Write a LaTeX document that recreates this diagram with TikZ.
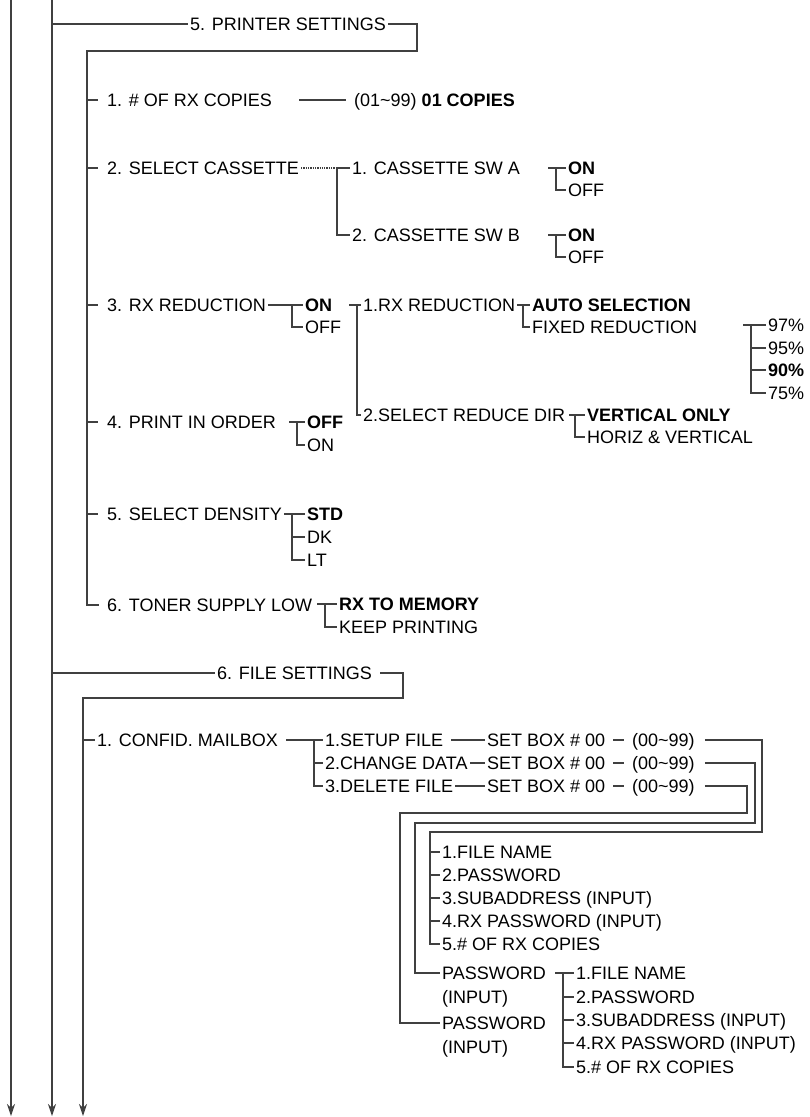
\documentclass[tikz,border=0pt]{standalone}
\usepackage{fontspec}
\setmainfont{Liberation Sans}
\usetikzlibrary{arrows.meta}

\tikzset{
  menu/.style={anchor=west, inner sep=2pt, text height=13pt, text depth=0pt,
    font=\fontsize{18}{22}\selectfont},
  sel/.style={menu, font=\fontsize{18}{22}\selectfont\bfseries},
  wire/.style={line width=1.3pt, black!75},
  down/.style={wire, -{Stealth[length=12pt, width=8pt]}}
}

\begin{document}
\begin{tikzpicture}[x=1pt, y=-1pt]
    \useasboundingbox (0,0) rectangle (810,1117);

    % Columns that run down the whole page
    \coordinate (colA) at (11,0);
    \coordinate (colB) at (52,0);
    \coordinate (endA) at (11,1116);
    \coordinate (endB) at (52,1116);
    \draw[down] (colA) -- (endA);
    \draw[down] (colB) -- (endB);

    % 5. Printer settings
    \node[menu] (prn) at (188,24) {5. PRINTER SETTINGS};
    \coordinate (prnTurn) at (417,51);
    \coordinate (prnBus) at (87,51);

    \node[menu] (copies) at (105,100) {1. \# OF RX COPIES};
    \node[menu] (copyval) at (352,100) {(01\textasciitilde99) \textbf{01 COPIES}};

    \node[menu] (cass) at (105,168) {2. SELECT CASSETTE};
    \coordinate (cassJ) at (337,168);
    \node[menu] (swA) at (350,168) {1. CASSETTE SW A};
    \node[menu] (swB) at (350,235) {2. CASSETTE SW B};
    \coordinate (aJ) at (556,168);
    \node[sel] (aOn) at (566,168) {ON};
    \node[menu] (aOff) at (566,190) {OFF};
    \coordinate (bJ) at (556,235);
    \node[sel] (bOn) at (566,235) {ON};
    \node[menu] (bOff) at (566,257) {OFF};

    \node[menu] (redu) at (105,305) {3. RX REDUCTION};
    \coordinate (rJ) at (292,305);
    \node[sel] (rOn) at (303,305) {ON};
    \node[menu] (rOff) at (303,327) {OFF};
    \coordinate (sJ) at (357,305);
    \node[menu] (rx1) at (361,305) {1.RX REDUCTION};
    \node[menu] (rx2) at (361,415) {2.SELECT REDUCE DIR};
    \coordinate (autoJ) at (523,305);
    \node[sel] (auto) at (530,305) {AUTO SELECTION};
    \node[menu] (fixed) at (530,327) {FIXED REDUCTION};
    \coordinate (pJ) at (751,325);
    \node[menu] (p97) at (766,325) {97\%};
    \node[menu] (p95) at (766,348) {95\%};
    \node[sel] (p90) at (766,370) {90\%};
    \node[menu] (p75) at (766,393) {75\%};
    \coordinate (dJ) at (575,415);
    \node[sel] (vert) at (585,415) {VERTICAL ONLY};
    \node[menu] (horiz) at (585,437) {HORIZ \& VERTICAL};

    \node[menu] (order) at (105,422) {4. PRINT IN ORDER};
    \coordinate (oJ) at (297,422);
    \node[sel] (oOff) at (305,422) {OFF};
    \node[menu] (oOn) at (305,445) {ON};

    \node[menu] (dens) at (105,514) {5. SELECT DENSITY};
    \coordinate (nJ) at (292,514);
    \node[sel] (std) at (305,514) {STD};
    \node[menu] (dk) at (305,537) {DK};
    \node[menu] (lt) at (305,560) {LT};

    \node[menu] (toner) at (105,605) {6. TONER SUPPLY LOW};
    \coordinate (tJ) at (325,604);
    \node[sel] (mem) at (337,604) {RX TO MEMORY};
    \node[menu] (keep) at (337,627) {KEEP PRINTING};

    % Printer settings wires
    \draw[wire] (colB |- prn.west) -- (prn.west);
    \draw[wire] (prn.east) -| (prnTurn) -- (prnBus) |- ([xshift=-6pt]toner.west);
    \foreach \n in {copies,cass,redu,order,dens}
        \draw[wire] (prnBus |- \n.west) -- ++(11,0);
    \draw[wire] ([xshift=25pt]copies.east) -- ([xshift=-6pt]copyval.west);
    \draw[wire, densely dotted] (cass.east) -- (cassJ);
    \draw[wire] (cassJ) -- (swA.west);
    \draw[wire] (cassJ) |- (swB.west);
    \draw[wire] ([xshift=-8pt]aJ) -- (aOn.west);
    \draw[wire] (aJ) |- (aOff.west);
    \draw[wire] ([xshift=-8pt]bJ) -- (bOn.west);
    \draw[wire] (bJ) |- (bOff.west);
    \draw[wire] (redu.east) -- (rOn.west);
    \draw[wire] (rJ) |- (rOff.west);
    \draw[wire] ([xshift=-8pt]sJ) -- (rx1.west);
    \draw[wire] (sJ) |- (rx2.west);
    \draw[wire] ([xshift=-6pt]autoJ) -- (auto.west);
    \draw[wire] (autoJ) |- (fixed.west);
    \draw[wire] ([xshift=-8pt]pJ) -- (p97.west);
    \draw[wire] (pJ) |- (p75.west);
    \foreach \n in {p95,p90}
        \draw[wire] (pJ |- \n.west) -- (\n.west);
    \draw[wire] ([xshift=-6pt]dJ) -- (vert.west);
    \draw[wire] (dJ) |- (horiz.west);
    \draw[wire] ([xshift=-8pt]oJ) -- (oOff.west);
    \draw[wire] (oJ) |- (oOn.west);
    \draw[wire] (dens.east) -- (std.west);
    \draw[wire] (nJ) |- (lt.west);
    \draw[wire] (nJ |- dk.west) -- (dk.west);
    \draw[wire] ([xshift=-8pt]tJ) -- (mem.west);
    \draw[wire] (tJ) |- (keep.west);

    % 6. File settings
    \node[menu] (file) at (215,673) {6. FILE SETTINGS};
    \coordinate (fileTurn) at (403,698);
    \coordinate (fileBus) at (83,698);
    \coordinate (endC) at (83,1116);
    \draw[wire] (colB |- file.west) -- (file.west);
    \draw[down] ([xshift=6pt]file.east) -| (fileTurn) -- (fileBus) -- (endC);

    \node[menu] (mail) at (95,740) {1. CONFID. MAILBOX};
    \coordinate (mJ) at (314,740);
    \node[menu] (setup) at (323,740) {1.SETUP FILE};
    \node[menu] (change) at (323,763) {2.CHANGE DATA};
    \node[menu] (delete) at (323,786) {3.DELETE FILE};
    \foreach \r in {1,2,3}
    {
        \node[menu] (box\r) at (485,717+23*\r) {SET BOX \# 00};
        \node[menu] (rng\r) at (630,717+23*\r) {(00\textasciitilde99)};
        \draw[wire] ([xshift=6pt]box\r.east) -- ([xshift=-6pt]rng\r.west);
    }

    % Return paths to the file data screens
    \coordinate (up1) at (762,832);
    \coordinate (lo1) at (430,832);
    \coordinate (up2) at (755,823);
    \coordinate (lo2) at (415,823);
    \coordinate (up3) at (747,813);
    \coordinate (lo3) at (400,813);

    \node[menu] (f1) at (440,852) {1.FILE NAME};
    \node[menu] (f2) at (440,875) {2.PASSWORD};
    \node[menu] (f3) at (440,898) {3.SUBADDRESS (INPUT)};
    \node[menu] (f4) at (440,921) {4.RX PASSWORD (INPUT)};
    \node[menu] (f5) at (440,944) {5.\# OF RX COPIES};

    \node[menu] (pw1) at (440,973) {PASSWORD};
    \node[menu] (pw1in) at (440,997) {(INPUT)};
    \node[menu] (pw2) at (440,1023) {PASSWORD};
    \node[menu] (pw2in) at (440,1047) {(INPUT)};

    \coordinate (qJ) at (563,973);
    \node[menu] (q1) at (574,973) {1.FILE NAME};
    \node[menu] (q2) at (574,997) {2.PASSWORD};
    \node[menu] (q3) at (574,1020) {3.SUBADDRESS (INPUT)};
    \node[menu] (q4) at (574,1043) {4.RX PASSWORD (INPUT)};
    \node[menu] (q5) at (574,1067) {5.\# OF RX COPIES};

    % File settings wires
    \draw[wire] (fileBus |- mail.west) -- (mail.west);
    \draw[wire] ([xshift=6pt]mail.east) -- (setup.west);
    \draw[wire] (mJ) |- (delete.west);
    \draw[wire] (mJ |- change.west) -- (change.west);
    \draw[wire] ([xshift=6pt]setup.east) -- (box1.west);
    \draw[wire] (change.east) -- (box2.west);
    \draw[wire] (delete.east) -- (box3.west);
    \draw[wire] ([xshift=8pt]rng1.east) -| (up1) -- (lo1) |- (f5.west);
    \draw[wire] ([xshift=8pt]rng2.east) -| (up2) -- (lo2) |- (pw1.west);
    \draw[wire] ([xshift=8pt]rng3.east) -| (up3) -- (lo3) |- (pw2.west);
    \foreach \n in {f1,f2,f3,f4}
        \draw[wire] (lo1 |- \n.west) -- (\n.west);
    \draw[wire] ([xshift=-8pt]qJ) -- (q1.west);
    \draw[wire] (qJ) |- (q5.west);
    \foreach \n in {q2,q3,q4}
        \draw[wire] (qJ |- \n.west) -- (\n.west);

\end{tikzpicture}
\end{document}
